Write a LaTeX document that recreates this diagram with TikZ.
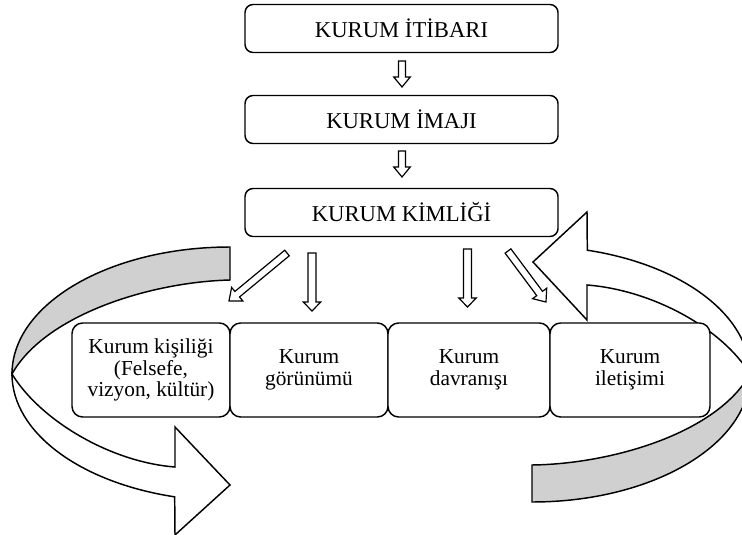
\documentclass[tikz,border=0pt]{standalone}
\usepackage{fontspec}
\setmainfont{Liberation Serif}
\usetikzlibrary{calc}
\definecolor{bandgray}{RGB}{208,208,208}
\tikzset{
  topbox/.style={draw, line width=1.1pt, rounded corners=6pt, fill=white,
    minimum width=234.75pt, minimum height=36pt, inner sep=0pt,
    font=\fontsize{17}{20}\selectfont},
  botbox/.style={draw, line width=1.1pt, rounded corners=8pt, fill=white,
    minimum height=70.5pt, inner sep=0pt, align=center,
    font=\fontsize{16}{16.3}\selectfont},
  blockarrow/.style={draw, fill=white, line width=0.9pt, line join=miter},
  backband/.style={draw, fill=bandgray, line width=1.1pt, line join=miter},
  frontband/.style={draw, fill=white, line width=1.1pt, line join=miter}
}
% hollow block arrow: #1 tail, #2 tip, #3 shaft half-width, #4 head half-width, #5 head length
\newcommand\hollowarrow[5]{%
  \coordinate (ha-h) at ($(#2)!#5!(#1)$);
  \draw[blockarrow] ($(#1)!#3!90:(#2)$) -- ($(ha-h)!#3!-90:(#1)$)
    -- ($(ha-h)!#4!-90:(#1)$) -- (#2) -- ($(ha-h)!#4!90:(#1)$)
    -- ($(ha-h)!#3!90:(#1)$) -- ($(#1)!#3!-90:(#2)$) -- cycle;
}
\begin{document}
\begin{tikzpicture}[x=0.75pt, y=-0.75pt]
\useasboundingbox (0,0) rectangle (742,535);
\begin{scope}
  \clip (0,0) rectangle (742,535);
  % left curved arrow
  \filldraw[backband] (230,247) arc[start angle=270, end angle=180, x radius=218, y radius=127]
    .. controls (45,315) and (150,282) .. (230,280) -- cycle;
  \filldraw[frontband] (12,374) arc[start angle=180, end angle=104.7, x radius=218, y radius=127]
    -- (175,535) -- (230,485) -- (175,427) -- (175,467)
    .. controls (110,462) and (40,420) .. (12,374) -- cycle;
  % right curved arrow
  \filldraw[backband] (532,502) arc[start angle=90, end angle=0, x radius=218, y radius=128]
    .. controls (717,433) and (612,464) .. (532,465) -- cycle;
  \filldraw[frontband] (750,374) arc[start angle=0, end angle=-75.3, x radius=218, y radius=128]
    -- (587,212) -- (533,262) -- (587,320) -- (587,285)
    .. controls (652,290) and (722,328) .. (750,374) -- cycle;
\end{scope}

% top boxes
\node[topbox] (t1) at (401.5,28.5) {KURUM İTİBARI};
\node[topbox] (t2) at (401.5,119.5) {KURUM İMAJI};
\node[topbox] (t3) at (401.5,212.5) {KURUM KİMLİĞİ};

% bottom boxes
\node[botbox, minimum width=118.5pt] (b1) at (151,370) {Kurum kişiliği\\(Felsefe,\\vizyon, kültür)};
\node[botbox, minimum width=118.5pt] (b2) at (309,370) {Kurum\\görünümü};
\node[botbox, minimum width=121.5pt] (b3) at (469,370) {Kurum\\davranışı};
\node[botbox, minimum width=120pt] (b4) at (630,370) {Kurum\\iletişimi};

% arrow end points
\coordinate (a1s) at (402,61);   \coordinate (a1e) at (402,87);
\coordinate (a2s) at (402,151);  \coordinate (a2e) at (402,177);
\coordinate (d1s) at (287,253);  \coordinate (d1e) at (229,301);
\coordinate (v1s) at (312,253);  \coordinate (v1e) at (312,311);
\coordinate (v2s) at (467.5,249); \coordinate (v2e) at (467.5,307);
\coordinate (d2s) at (508,251);  \coordinate (d2e) at (546,302);

\hollowarrow{a1s}{a1e}{2.6pt}{6.2pt}{7.5pt}
\hollowarrow{a2s}{a2e}{2.6pt}{6.2pt}{7.5pt}
\hollowarrow{v1s}{v1e}{3pt}{6.6pt}{6.8pt}
\hollowarrow{v2s}{v2e}{3pt}{6.6pt}{6.8pt}
\hollowarrow{d1s}{d1e}{2.7pt}{6.6pt}{8pt}
\hollowarrow{d2s}{d2e}{2.7pt}{6.6pt}{8pt}
\end{tikzpicture}
\end{document}
